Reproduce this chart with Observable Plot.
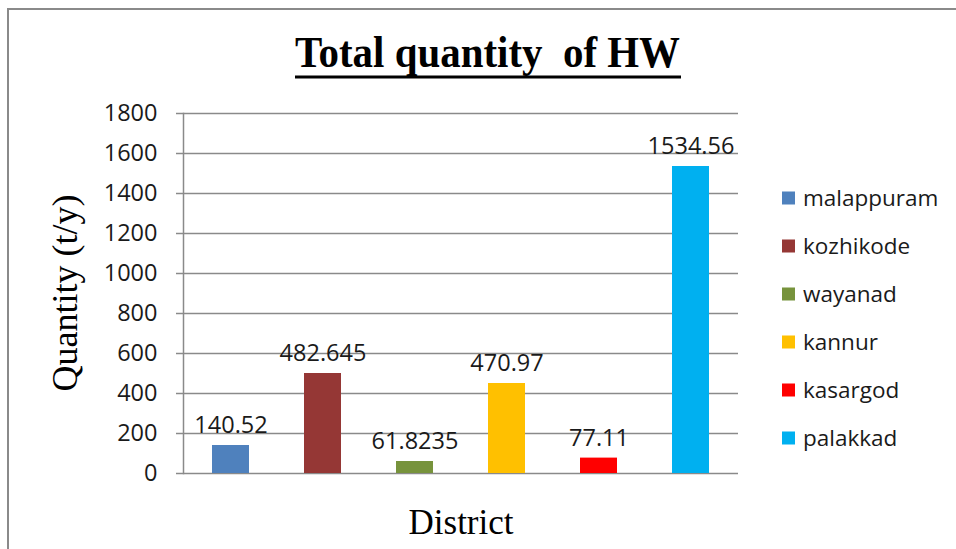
<!DOCTYPE html>
<html><head><meta charset="utf-8">
<script src="https://cdn.jsdelivr.net/npm/d3@7"></script>
<script src="https://cdn.jsdelivr.net/npm/@observablehq/plot@0.6"></script>
<style>
html,body{margin:0;padding:0;background:#fff;overflow:hidden;}
#wrap{position:relative;width:956px;height:549px;overflow:hidden;background:#fff;}
#frame{position:absolute;left:7px;top:8px;width:1100px;height:700px;border:2px solid #8a8a8a;box-sizing:border-box;}
#chart{position:absolute;left:0;top:0;}
</style></head><body>
<div id="wrap"><div id="frame"></div><div id="chart"></div></div>
<script>
// ---- data ----
const districts = ["malappuram", "kozhikode", "wayanad", "kannur", "kasargod", "palakkad"];
const barValues = [140, 500, 60, 450, 77, 1535];
const labelTexts = ["140.52", "482.645", "61.8235", "470.97", "77.11", "1534.56"];
const colors = ["#4F81BD", "#953735", "#77933C", "#FFC000", "#FF0000", "#00B0F0"];
const yTicks = [0, 200, 400, 600, 800, 1000, 1200, 1400, 1600, 1800];
const titleText = "Total quantity  of HW";
const xTitle = "District";
const yTitle = "Quantity (t/y)";

const data = districts.map((d, i) => ({district: d, value: barValues[i], label: labelTexts[i]}));
const sans = "'Open Sans', 'Liberation Sans', sans-serif";
const serif = "'Liberation Serif', 'Times New Roman', serif";
const grid = "#8a8a8a";
const ink = "#1a1a1a";

const plot = Plot.plot({
  width: 956, height: 549,
  marginLeft: 183, marginRight: 218, marginTop: 113, marginBottom: 76,
  style: {fontFamily: sans, background: "transparent", overflow: "visible", color: ink},
  x: {domain: districts, paddingInner: 0.6, paddingOuter: 0.3, axis: null},
  y: {domain: [0, 1800], axis: null},
  color: {domain: districts, range: colors},
  marks: [
    Plot.ruleY(yTicks, {stroke: grid, strokeWidth: 1.5}),
    Plot.frame({anchor: "left", stroke: grid, strokeWidth: 1.5}),
    Plot.axisY(yTicks, {tickSize: 7, tickPadding: 19, fontSize: 23.5, stroke: grid, strokeWidth: 1.5, fill: ink, label: null, tickFormat: d => String(d)}),
    Plot.barY(data, {x: "district", y: "value", fill: "district"}),
    Plot.text(data, {x: "district", y: "value", text: "label", dy: -20, fontSize: 23.5, fill: ink}),
    Plot.text([xTitle], {frameAnchor: "bottom", lineAnchor: "middle", dy: 49, fontFamily: serif, fontSize: 35, fill: "#000"})
  ]
});
document.getElementById("chart").appendChild(plot);

const svg = d3.select(plot);

// y-axis title
svg.append("text")
  .attr("transform", "translate(65.5,293) rotate(-90)")
  .attr("text-anchor", "middle").attr("dy", "0.32em")
  .attr("font-family", serif).attr("font-size", 36).attr("fill", "#000")
  .text(yTitle);

// title
svg.append("text")
  .attr("x", 487.5).attr("y", 67)
  .attr("text-anchor", "middle")
  .attr("font-family", serif).attr("font-weight", "bold").attr("font-size", 44)
  .attr("textLength", 385).attr("lengthAdjust", "spacingAndGlyphs")
  .attr("fill", "#000")
  .style("white-space", "pre")
  .text(titleText);
svg.append("rect").attr("x", 295).attr("y", 75.5).attr("width", 386).attr("height", 3).attr("fill", "#000");

// legend
const color = plot.scale("color");
const lg = svg.append("g").attr("font-family", sans).attr("font-size", 22.5).attr("fill", ink).attr("text-anchor", "start");
districts.forEach((d, i) => {
  const cy = 198 + i * 48;
  lg.append("rect").attr("x", 782).attr("y", cy - 6.5).attr("width", 13).attr("height", 13).attr("fill", colors[color.domain.indexOf(d)]);
  lg.append("text").attr("x", 803).attr("y", cy).attr("dy", "0.35em").attr("text-anchor", "start").text(d);
});
</script>
</body></html>
